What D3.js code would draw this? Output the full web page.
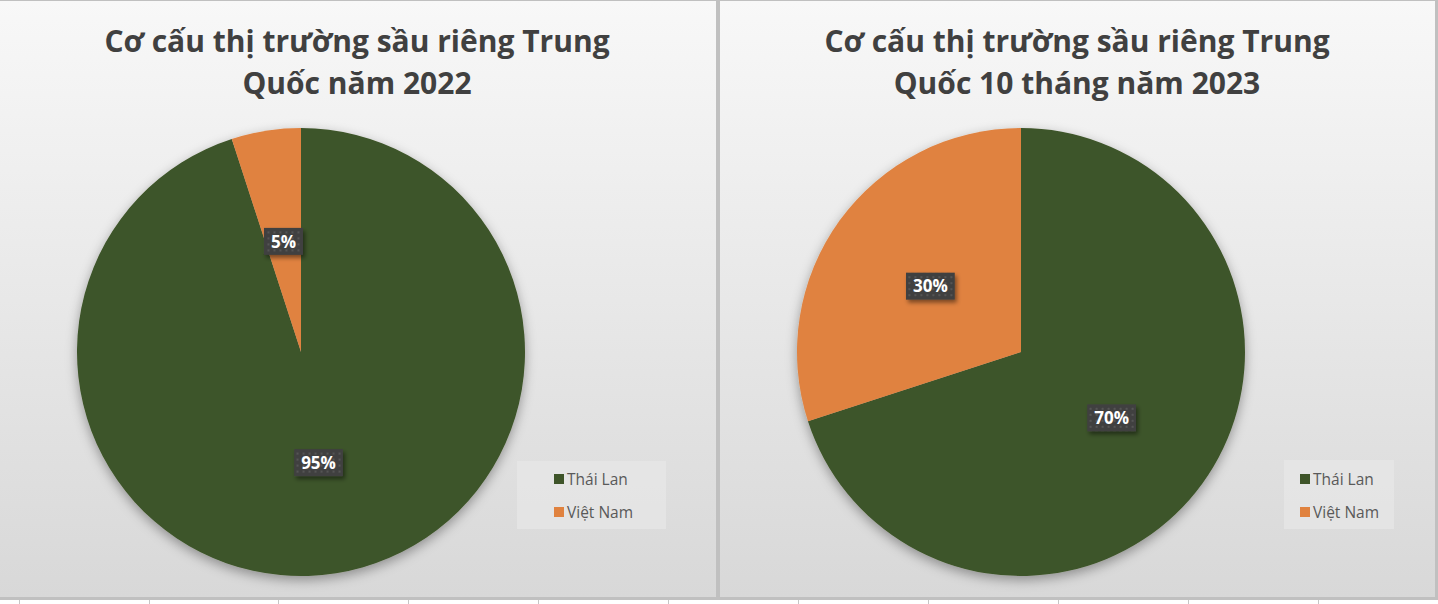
<!DOCTYPE html>
<html><head><meta charset="utf-8">
<script src="https://cdn.jsdelivr.net/npm/d3@7"></script>
<style>html,body{margin:0;padding:0;background:#fff;overflow:hidden}</style>
</head><body>
<svg id="c" width="1438" height="604"></svg>
<script>
const categories = ["Thái Lan", "Việt Nam"];
const values2022 = [95, 5];
const values2023 = [70, 30];
const titles2022 = ["Cơ cấu thị trường sầu riêng Trung", "Quốc năm 2022"];
const titles2023 = ["Cơ cấu thị trường sầu riêng Trung", "Quốc 10 tháng năm 2023"];
const colors = ["#3e5429", "#e0823f"];

const svg = d3.select("#c");
const defs = svg.append("defs");
const grad = defs.append("linearGradient").attr("id","bg").attr("x1",0).attr("y1",0).attr("x2",0).attr("y2",1);
grad.append("stop").attr("offset","0%").attr("stop-color","#f8f8f8");
grad.append("stop").attr("offset","100%").attr("stop-color","#d8d8d8");
const sh = defs.append("filter").attr("id","pieShadow").attr("x","-20%").attr("y","-20%").attr("width","140%").attr("height","140%");
sh.append("feDropShadow").attr("dx",0).attr("dy",4).attr("stdDeviation",6).attr("flood-color","#000").attr("flood-opacity",0.35);
const lsh = defs.append("filter").attr("id","lblShadow").attr("x","-30%").attr("y","-30%").attr("width","160%").attr("height","160%");
lsh.append("feDropShadow").attr("dx",2).attr("dy",3).attr("stdDeviation",2).attr("flood-color","#000").attr("flood-opacity",0.45);
const pat = defs.append("pattern").attr("id","dots").attr("width",6).attr("height",6).attr("patternUnits","userSpaceOnUse");
pat.append("rect").attr("width",6).attr("height",6).attr("fill","#404040");
pat.append("rect").attr("x",2).attr("y",2).attr("width",2).attr("height",2).attr("fill","#555");

// frame
svg.append("rect").attr("x",0).attr("y",0).attr("width",1438).attr("height",604).attr("fill","#ffffff");
svg.append("rect").attr("x",0).attr("y",0).attr("width",1438).attr("height",600).attr("fill","#c0c0c0");
const panels = [
  {x:0, w:716, values:values2022, title:titles2022, legendBox:[517,461,149,68], legendX:554},
  {x:720, w:715, values:values2023, title:titles2023, legendBox:[1284,460,110,69], legendX:1300}
];
// bottom ticks
const tickXs = [19,149,278,408,538,668,798,928,1058,1188,1318];
svg.selectAll("line.tick").data(tickXs).enter().append("line")
  .attr("x1",d=>d+0.5).attr("x2",d=>d+0.5).attr("y1",600).attr("y2",604)
  .attr("stroke","#c6c6c6").attr("stroke-width",1);

const R = 224;
panels.forEach(p => {
  const g = svg.append("g");
  g.append("rect").attr("x",p.x).attr("y",1).attr("width",p.w).attr("height",596).attr("fill","url(#bg)");
  const cx = p.x + 301, cy = 352;
  // title
  const t = g.append("text").attr("text-anchor","middle").attr("fill","#404040")
    .attr("font-family","'Open Sans', sans-serif").attr("font-weight","bold").attr("font-size",30);
  p.title.forEach((line,i)=>{
    t.append("tspan").attr("x", p.x + 357).attr("y", 52 + i*42).text(line);
  });
  // pie
  const pie = d3.pie().sort(null).value(d=>d.v);
  const arcs = pie(categories.map((c,i)=>({c, v:p.values[i], i})));
  const arc = d3.arc().innerRadius(0).outerRadius(R);
  const lblArc = d3.arc().innerRadius(0).outerRadius(R);
  const pg = g.append("g").attr("transform",`translate(${cx},${cy})`);
  pg.append("g").attr("filter","url(#pieShadow)").selectAll("path").data(arcs).enter().append("path")
    .attr("d",arc).attr("fill",d=>colors[d.data.i]);
  const total = d3.sum(p.values);
  const fmt = d3.format(".0%");
  arcs.forEach(d => {
    const [lx,ly] = lblArc.centroid(d);
    const lg = pg.append("g").attr("transform",`translate(${lx},${ly})`);
    const rect = lg.append("rect").attr("fill","url(#dots)").attr("filter","url(#lblShadow)");
    const tx = lg.append("text").attr("text-anchor","middle").attr("dy","0.36em")
      .attr("fill","#fff").attr("font-family","'Open Sans', sans-serif").attr("font-weight","bold")
      .attr("font-size",17).text(fmt(d.data.v/total));
    const w = tx.node().getComputedTextLength() + 14;
    rect.attr("x",-w/2).attr("y",-13.5).attr("width",w).attr("height",27);
  });
  // legend
  const lb = p.legendBox;
  g.append("rect").attr("x",lb[0]).attr("y",lb[1]).attr("width",lb[2]).attr("height",lb[3]).attr("fill","#e6e6e6").attr("opacity",0.8);
  categories.forEach((c,i)=>{
    const y = 474 + i*33;
    g.append("rect").attr("x",p.legendX).attr("y",y).attr("width",10).attr("height",10).attr("fill",colors[i]);
    g.append("text").attr("x",p.legendX+13).attr("y",y+11).attr("fill","#595959")
      .attr("font-family","'Open Sans', sans-serif").attr("font-size",15.5).text(c);
  });
});
</script>
</body></html>
